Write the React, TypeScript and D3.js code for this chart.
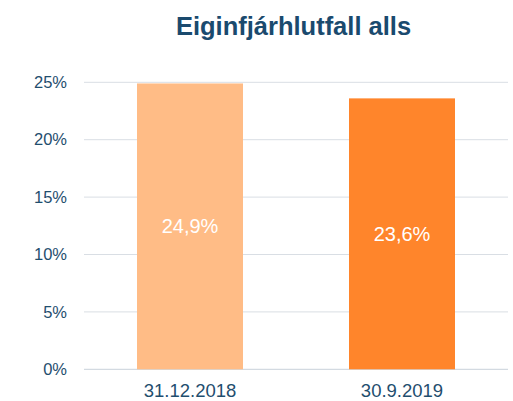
import React from "react";
import * as d3 from "d3";

const categories = ["31.12.2018", "30.9.2019"];
const values = [24.9, 23.6];
const valueLabels = ["24,9%", "23,6%"];
const barColors = ["#FFBC86", "#FF852B"];
const yTicks = [0, 5, 10, 15, 20, 25];
const title = "Eiginfjárhlutfall alls";

export default function App() {
  const W = 513, H = 401;
  const left = 84, right = 508, top = 82.3, bottom = 369.3;
  const x = d3.scaleBand<string>().domain(categories).range([left, right]).paddingInner(0.5).paddingOuter(0.25);
  const y = d3.scaleLinear().domain([0, 25]).range([bottom, top]);
  const font = "'Liberation Sans', Arial, sans-serif";
  const textColor = "#1F4E6E";
  return (
    <svg width={W} height={H} style={{ position: "absolute", left: 0, top: 0 }} fontFamily={font}>
      <text x={293.5} y={35} textAnchor="middle" fontSize={25.5} fontWeight="bold" fill="#1A4A6E">{title}</text>
      {yTicks.map((t) => (
        <g key={t}>
          <line x1={left} x2={right} y1={y(t)} y2={y(t)} stroke={t === 0 ? "#C9D1DA" : "#D9DEE4"} strokeWidth={1} />
          <text x={67} y={y(t)} dy="0.35em" textAnchor="end" fontSize={16.5} fill={textColor}>{t}%</text>
        </g>
      ))}
      {categories.map((c, i) => (
        <g key={c}>
          <rect x={x(c)} y={y(values[i])} width={x.bandwidth()} height={y(0) - y(values[i])} fill={barColors[i]} />
          <text x={(x(c) as number) + x.bandwidth() / 2} y={(y(values[i]) + y(0)) / 2} dy="0.35em" textAnchor="middle" fontSize={20} fill="#FFFFFF">{valueLabels[i]}</text>
          <text x={(x(c) as number) + x.bandwidth() / 2} y={397} textAnchor="middle" fontSize={18.5} fill={textColor}>{c}</text>
        </g>
      ))}
    </svg>
  );
}
